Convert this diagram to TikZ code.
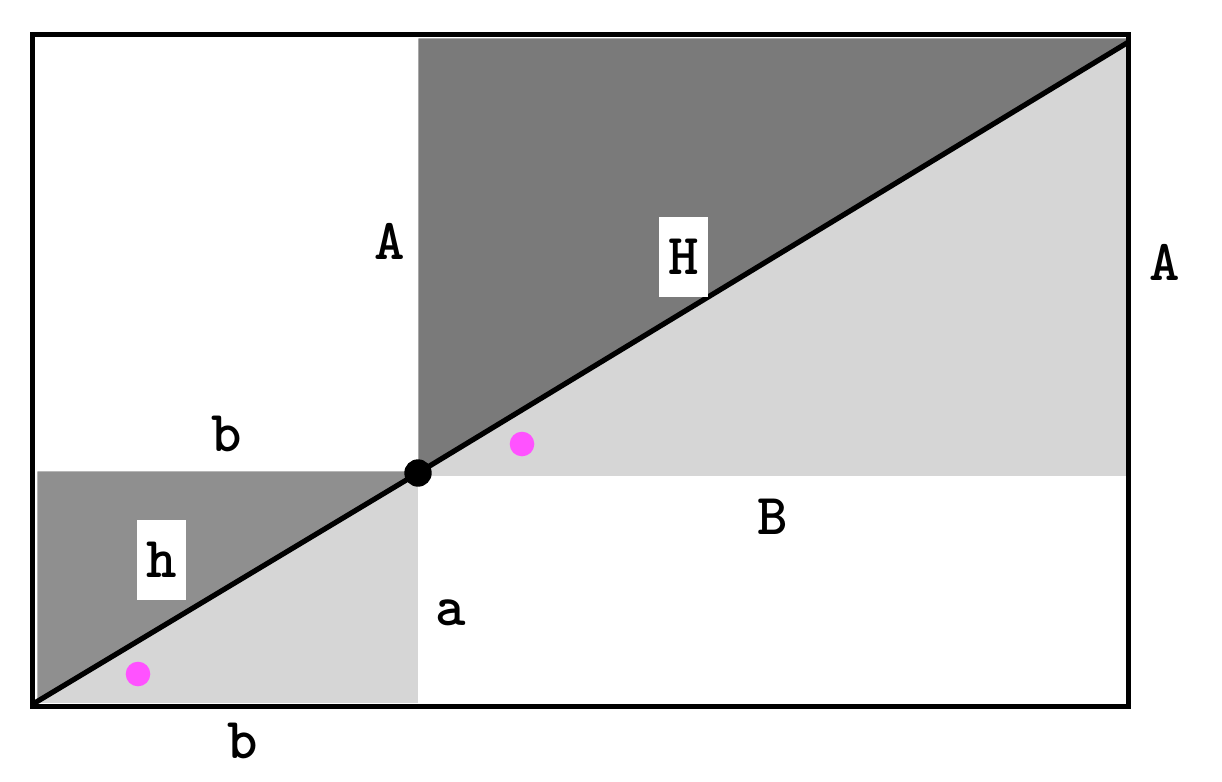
\documentclass[tikz,border=0pt]{standalone}
\usepackage{fontspec}
\definecolor{darkA}{HTML}{7A7A7A}
\definecolor{darkB}{HTML}{8F8F8F}
\definecolor{lightG}{HTML}{D6D6D6}
\definecolor{dotpink}{HTML}{FF52FF}
\tikzset{
  lbl/.style={font=\ttfamily\bfseries\fontsize{29}{34}\selectfont, inner sep=0pt},
  boxlbl/.style={lbl, fill=white, minimum width=24.5pt, minimum height=40pt},
  frame/.style={line width=2.5pt},
  diag/.style={line width=2.6pt},
  pinkdot/.style={circle, fill=dotpink, inner sep=0pt, minimum size=12.3pt},
}
\begin{document}
\begin{tikzpicture}[x=0.5pt,y=-0.5pt]
\useasboundingbox (0,0) rectangle (1222,782);
% fills
\fill[lightG] (418,38) rectangle (1127,476);
\fill[darkA, draw=white, line width=0.4pt] (418,38) -- (1127,38) -- (1127,43.2) -- (418,471.5) -- cycle;
\fill[lightG] (37,471) rectangle (418,703);
\fill[darkB, draw=white, line width=0.4pt] (37,471) -- (418,471) -- (418,471.5) -- (37,701.6) -- cycle;
% frame
\draw[frame] (32.5,34.5) rectangle (1128.5,706);
% diagonal
\coordinate (O) at (33,704);
\coordinate (T) at (1128.5,42);
\node[circle, fill=black, inner sep=0pt, minimum size=13.7pt] (P) at (418,473) {};
\draw[diag] (O) -- (P.center) -- (T);
% pink dots
\node[pinkdot] (d1) at (522,444) {};
\node[pinkdot] (d2) at (138,674) {};
% labels
\node[lbl] (Al) at (390,241) {A};
\node[boxlbl] (H) at (683.5,257) {H};
\node[lbl] (Ar) at (1165,262) {A};
\node[lbl] (bu) at (227,434) {b};
\node[lbl] (B) at (773,517) {B};
\node[boxlbl] (h) at (161.5,560) {h};
\node[lbl] (a) at (451,612.5) {a};
\node[lbl] (bl) at (243,740.5) {b};
\end{tikzpicture}
\end{document}
